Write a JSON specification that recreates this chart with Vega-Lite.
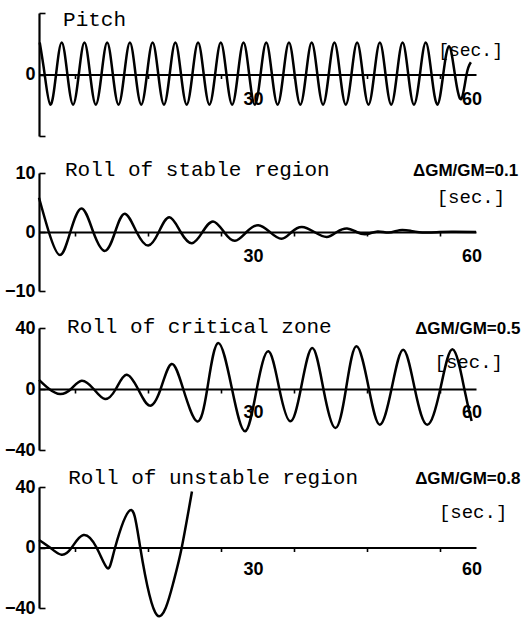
{
  "$schema": "https://vega.github.io/schema/vega-lite/v6.json",
  "background": "white",
  "padding": {"left": 4, "top": 4, "right": 0, "bottom": 0},
  "spacing": 37,
  "bounds": "flush",
  "config": {
    "view": {"stroke": null},
    "axis": {
      "grid": false, "title": null,
      "domainColor": "black", "domainWidth": 2.2,
      "tickColor": "black", "tickWidth": 1.6,
      "labelColor": "black",
      "labelFont": "Liberation Sans",
      "labelFontWeight": "bold", "labelFontSize": 18,
      "labelOverlap": false, "labelFlush": false
    },
    "text": {"color": "black"}
  },
  "datasets": {
    "pitch": [
      {"t": 0.1, "v": 5.2}, {"t": 0.78, "v": 0}, {"t": 1.56, "v": -4.9}, {"t": 2.34, "v": 0},
      {"t": 3.12, "v": 5.2}, {"t": 3.9, "v": 0}, {"t": 4.68, "v": -4.9}, {"t": 5.46, "v": 0},
      {"t": 6.24, "v": 5.2}, {"t": 7.02, "v": 0}, {"t": 7.8, "v": -4.9}, {"t": 8.58, "v": 0},
      {"t": 9.36, "v": 5.2}, {"t": 10.14, "v": 0}, {"t": 10.92, "v": -4.9}, {"t": 11.7, "v": 0},
      {"t": 12.48, "v": 5.2}, {"t": 13.26, "v": 0}, {"t": 14.04, "v": -4.9}, {"t": 14.82, "v": 0},
      {"t": 15.6, "v": 5.2}, {"t": 16.38, "v": 0}, {"t": 17.16, "v": -4.9}, {"t": 17.94, "v": 0},
      {"t": 18.72, "v": 5.2}, {"t": 19.5, "v": 0}, {"t": 20.28, "v": -4.9}, {"t": 21.06, "v": 0},
      {"t": 21.84, "v": 5.2}, {"t": 22.62, "v": 0}, {"t": 23.4, "v": -4.9}, {"t": 24.18, "v": 0},
      {"t": 24.96, "v": 5.2}, {"t": 25.74, "v": 0}, {"t": 26.52, "v": -4.9}, {"t": 27.3, "v": 0},
      {"t": 28.08, "v": 5.2}, {"t": 28.86, "v": 0}, {"t": 29.64, "v": -4.9}, {"t": 30.42, "v": 0},
      {"t": 31.2, "v": 5.2}, {"t": 31.98, "v": 0}, {"t": 32.76, "v": -4.9}, {"t": 33.54, "v": 0},
      {"t": 34.32, "v": 5.2}, {"t": 35.1, "v": 0}, {"t": 35.88, "v": -4.9}, {"t": 36.66, "v": 0},
      {"t": 37.44, "v": 5.2}, {"t": 38.22, "v": 0}, {"t": 39.0, "v": -4.9}, {"t": 39.78, "v": 0},
      {"t": 40.56, "v": 5.2}, {"t": 41.34, "v": 0}, {"t": 42.12, "v": -4.9}, {"t": 42.9, "v": 0},
      {"t": 43.68, "v": 5.2}, {"t": 44.46, "v": 0}, {"t": 45.24, "v": -4.9}, {"t": 46.02, "v": 0},
      {"t": 46.8, "v": 5.2}, {"t": 47.58, "v": 0}, {"t": 48.36, "v": -4.9}, {"t": 49.14, "v": 0},
      {"t": 49.92, "v": 5.2}, {"t": 50.7, "v": 0}, {"t": 51.48, "v": -4.9}, {"t": 52.3, "v": 0},
      {"t": 53.1, "v": 5.2}, {"t": 53.9, "v": 0}, {"t": 54.7, "v": -4.9}, {"t": 55.5, "v": 0},
      {"t": 56.3, "v": 4.6}, {"t": 57.1, "v": 0}, {"t": 57.95, "v": -4.0}, {"t": 58.7, "v": 0},
      {"t": 59.3, "v": 2.0}
    ],
    "stable": [
      {"t": 0, "v": 5.8}, {"t": 1.35, "v": 0}, {"t": 2.88, "v": -3.9}, {"t": 4.3, "v": 0},
      {"t": 5.86, "v": 4.0}, {"t": 7.45, "v": 0}, {"t": 9.07, "v": -3.2}, {"t": 10.45, "v": 0},
      {"t": 11.8, "v": 3.1}, {"t": 13.4, "v": 0}, {"t": 15.0, "v": -2.3}, {"t": 16.45, "v": 0},
      {"t": 17.9, "v": 2.5}, {"t": 19.45, "v": 0}, {"t": 21.0, "v": -1.9}, {"t": 22.45, "v": 0},
      {"t": 23.9, "v": 1.8}, {"t": 25.4, "v": 0}, {"t": 26.9, "v": -1.5}, {"t": 28.5, "v": 0},
      {"t": 30.1, "v": 1.15}, {"t": 31.7, "v": 0}, {"t": 33.3, "v": -1.15}, {"t": 34.7, "v": 0},
      {"t": 36.1, "v": 0.85}, {"t": 37.8, "v": 0}, {"t": 39.5, "v": -0.85}, {"t": 40.9, "v": 0},
      {"t": 42.3, "v": 0.6}, {"t": 43.6, "v": 0}, {"t": 45.0, "v": -0.35}, {"t": 46.5, "v": 0.1},
      {"t": 48.0, "v": -0.1}, {"t": 49.5, "v": 0.3}, {"t": 51.0, "v": 0.2}, {"t": 53.0, "v": -0.1},
      {"t": 55.0, "v": 0}, {"t": 57.0, "v": 0.05}, {"t": 60.0, "v": 0}
    ],
    "critical": [
      {"t": 0, "v": 6}, {"t": 1.4, "v": 0}, {"t": 2.9, "v": -3.3}, {"t": 4.4, "v": 0},
      {"t": 5.86, "v": 5.4}, {"t": 7.5, "v": 0}, {"t": 9.07, "v": -6.6}, {"t": 10.55, "v": 0},
      {"t": 12.0, "v": 9.4}, {"t": 13.6, "v": 0}, {"t": 15.2, "v": -10.9}, {"t": 16.7, "v": 0},
      {"t": 18.2, "v": 16.4}, {"t": 19.8, "v": 0}, {"t": 21.7, "v": -21.2}, {"t": 23.1, "v": 0},
      {"t": 24.6, "v": 30.2}, {"t": 26.5, "v": 0}, {"t": 28.3, "v": -27.7}, {"t": 29.9, "v": 0},
      {"t": 31.5, "v": 24.7}, {"t": 33.0, "v": 0}, {"t": 34.5, "v": -21.2}, {"t": 35.95, "v": 0},
      {"t": 37.5, "v": 26.9}, {"t": 39.05, "v": 0}, {"t": 40.7, "v": -25.6}, {"t": 42.15, "v": 0},
      {"t": 43.6, "v": 28}, {"t": 45.3, "v": 0}, {"t": 46.8, "v": -23.4}, {"t": 48.4, "v": 0},
      {"t": 50.0, "v": 25.8}, {"t": 51.6, "v": 0}, {"t": 53.3, "v": -23.4}, {"t": 55.1, "v": 0},
      {"t": 56.8, "v": 26}, {"t": 58.4, "v": 0}, {"t": 59.4, "v": -21}
    ],
    "unstable": [
      {"t": 0, "v": 5}, {"t": 1.5, "v": 0}, {"t": 3.1, "v": -4.8}, {"t": 4.5, "v": 0},
      {"t": 6.1, "v": 8.2}, {"t": 7.9, "v": 0}, {"t": 9.4, "v": -13.7}, {"t": 10.45, "v": 0},
      {"t": 12.5, "v": 24.6}, {"t": 13.9, "v": 0}, {"t": 16.2, "v": -44.7}, {"t": 18.4, "v": -24},
      {"t": 19.6, "v": 0}, {"t": 21.0, "v": 37}
    ],
    "xlabels": [{"t": 30, "label": "30"}, {"t": 60, "label": "60"}],
    "titles1": [{"t": 3.3, "v": 7.9, "label": "Pitch"}],
    "sec1": [{"t": 63.7, "v": 3.0, "label": "[sec.]"}],
    "titles2": [{"t": 3.57, "v": 9.5, "label": "Roll of stable region"}],
    "gm2": [{"t": 65.8, "v": 9.5, "label": "ΔGM/GM=0.1"}],
    "sec2": [{"t": 64.0, "v": 4.9, "label": "[sec.]"}],
    "titles3": [{"t": 3.85, "v": 36.7, "label": "Roll of critical zone"}],
    "gm3": [{"t": 66.1, "v": 36.0, "label": "ΔGM/GM=0.5"}],
    "sec3": [{"t": 63.7, "v": 13.8, "label": "[sec.]"}],
    "titles4": [{"t": 4.0, "v": 41.7, "label": "Roll of unstable region"}],
    "gm4": [{"t": 66.1, "v": 41.7, "label": "ΔGM/GM=0.8"}],
    "sec4": [{"t": 64.3, "v": 19.8, "label": "[sec.]"}]
  },
  "vconcat": [
    {
      "width": 437, "height": 123,
      "layer": [
        {
          "data": {"name": "pitch"},
          "mark": {"type": "line", "interpolate": "natural", "stroke": "black", "strokeWidth": 2.5, "clip": false},
          "encoding": {
            "x": {"field": "t", "type": "quantitative", "scale": {"domain": [0, 60], "nice": false, "zero": false},
              "axis": {"orient": "bottom", "offset": -61.5, "values": [5, 10, 15, 20, 25, 30, 35, 40, 45, 50, 55, 60], "labels": false, "tickSize": 4}},
            "y": {"field": "v", "type": "quantitative", "scale": {"domain": [-10, 10], "nice": false},
              "axis": {"values": [-10, 0, 10], "labelExpr": "datum.value == 0 ? datum.label : ''", "tickSize": -6, "labelPadding": 10}}
          }
        },
        {
          "data": {"name": "xlabels"},
          "mark": {"type": "text", "font": "Liberation Sans", "fontWeight": "bold", "fontSize": 18, "align": "center", "baseline": "top", "dy": 16, "dx": -4},
          "encoding": {"x": {"field": "t", "type": "quantitative"}, "y": {"datum": 0}, "text": {"field": "label"}}
        },
        {
          "data": {"name": "titles1"},
          "mark": {"type": "text", "font": "Liberation Mono", "fontSize": 21, "align": "left", "baseline": "alphabetic"},
          "encoding": {"x": {"field": "t", "type": "quantitative"}, "y": {"field": "v", "type": "quantitative"}, "text": {"field": "label"}}
        },
        {
          "data": {"name": "sec1"},
          "mark": {"type": "text", "font": "Liberation Mono", "fontSize": 18, "align": "right", "baseline": "alphabetic"},
          "encoding": {"x": {"field": "t", "type": "quantitative"}, "y": {"field": "v", "type": "quantitative"}, "text": {"field": "label"}}
        }
      ]
    },
    {
      "width": 437, "height": 118,
      "layer": [
        {
          "data": {"name": "stable"},
          "mark": {"type": "line", "interpolate": "natural", "stroke": "black", "strokeWidth": 2.5, "clip": false},
          "encoding": {
            "x": {"field": "t", "type": "quantitative", "scale": {"domain": [0, 60], "nice": false, "zero": false},
              "axis": {"orient": "bottom", "offset": -59, "values": [5, 10, 15, 20, 25, 30, 35, 40, 45, 50, 55, 60], "labels": false, "tickSize": 4}},
            "y": {"field": "v", "type": "quantitative", "scale": {"domain": [-10, 10], "nice": false},
              "axis": {"values": [-10, 0, 10], "tickSize": -6, "labelPadding": 10}}
          }
        },
        {
          "data": {"name": "xlabels"},
          "mark": {"type": "text", "font": "Liberation Sans", "fontWeight": "bold", "fontSize": 18, "align": "center", "baseline": "top", "dy": 16, "dx": -4},
          "encoding": {"x": {"field": "t", "type": "quantitative"}, "y": {"datum": 0}, "text": {"field": "label"}}
        },
        {
          "data": {"name": "titles2"},
          "mark": {"type": "text", "font": "Liberation Mono", "fontSize": 21, "align": "left", "baseline": "alphabetic"},
          "encoding": {"x": {"field": "t", "type": "quantitative"}, "y": {"field": "v", "type": "quantitative"}, "text": {"field": "label"}}
        },
        {
          "data": {"name": "gm2"},
          "mark": {"type": "text", "font": "Liberation Sans", "fontWeight": "bold", "fontSize": 17, "align": "right", "baseline": "alphabetic"},
          "encoding": {"x": {"field": "t", "type": "quantitative"}, "y": {"field": "v", "type": "quantitative"}, "text": {"field": "label"}}
        },
        {
          "data": {"name": "sec2"},
          "mark": {"type": "text", "font": "Liberation Mono", "fontSize": 19, "align": "right", "baseline": "alphabetic"},
          "encoding": {"x": {"field": "t", "type": "quantitative"}, "y": {"field": "v", "type": "quantitative"}, "text": {"field": "label"}}
        }
      ]
    },
    {
      "width": 437, "height": 122,
      "layer": [
        {
          "data": {"name": "critical"},
          "mark": {"type": "line", "interpolate": "natural", "stroke": "black", "strokeWidth": 2.5, "clip": false},
          "encoding": {
            "x": {"field": "t", "type": "quantitative", "scale": {"domain": [0, 60], "nice": false, "zero": false},
              "axis": {"orient": "bottom", "offset": -61, "values": [5, 10, 15, 20, 25, 30, 35, 40, 45, 50, 55, 60], "labels": false, "tickSize": 4}},
            "y": {"field": "v", "type": "quantitative", "scale": {"domain": [-40, 40], "nice": false},
              "axis": {"values": [-40, -20, 0, 20, 40], "labelExpr": "datum.value == 20 || datum.value == -20 ? '' : datum.label", "tickSize": -6, "labelPadding": 10}}
          }
        },
        {
          "data": {"name": "xlabels"},
          "mark": {"type": "text", "font": "Liberation Sans", "fontWeight": "bold", "fontSize": 18, "align": "center", "baseline": "top", "dy": 15, "dx": -4},
          "encoding": {"x": {"field": "t", "type": "quantitative"}, "y": {"datum": 0}, "text": {"field": "label"}}
        },
        {
          "data": {"name": "titles3"},
          "mark": {"type": "text", "font": "Liberation Mono", "fontSize": 21, "align": "left", "baseline": "alphabetic"},
          "encoding": {"x": {"field": "t", "type": "quantitative"}, "y": {"field": "v", "type": "quantitative"}, "text": {"field": "label"}}
        },
        {
          "data": {"name": "gm3"},
          "mark": {"type": "text", "font": "Liberation Sans", "fontWeight": "bold", "fontSize": 17, "align": "right", "baseline": "alphabetic"},
          "encoding": {"x": {"field": "t", "type": "quantitative"}, "y": {"field": "v", "type": "quantitative"}, "text": {"field": "label"}}
        },
        {
          "data": {"name": "sec3"},
          "mark": {"type": "text", "font": "Liberation Mono", "fontSize": 19, "align": "right", "baseline": "alphabetic"},
          "encoding": {"x": {"field": "t", "type": "quantitative"}, "y": {"field": "v", "type": "quantitative"}, "text": {"field": "label"}}
        }
      ]
    },
    {
      "width": 437, "height": 121,
      "layer": [
        {
          "data": {"name": "unstable"},
          "mark": {"type": "line", "interpolate": "natural", "stroke": "black", "strokeWidth": 2.5, "clip": false},
          "encoding": {
            "x": {"field": "t", "type": "quantitative", "scale": {"domain": [0, 60], "nice": false, "zero": false},
              "axis": {"orient": "bottom", "offset": -60.5, "values": [5, 10, 15, 20, 25, 30, 35, 40, 45, 50, 55, 60], "labels": false, "tickSize": 4}},
            "y": {"field": "v", "type": "quantitative", "scale": {"domain": [-40, 40], "nice": false},
              "axis": {"values": [-40, -20, 0, 20, 40], "labelExpr": "datum.value == 20 || datum.value == -20 ? '' : datum.label", "tickSize": -6, "labelPadding": 10}}
          }
        },
        {
          "data": {"name": "xlabels"},
          "mark": {"type": "text", "font": "Liberation Sans", "fontWeight": "bold", "fontSize": 18, "align": "center", "baseline": "top", "dy": 13, "dx": -4},
          "encoding": {"x": {"field": "t", "type": "quantitative"}, "y": {"datum": 0}, "text": {"field": "label"}}
        },
        {
          "data": {"name": "titles4"},
          "mark": {"type": "text", "font": "Liberation Mono", "fontSize": 21, "align": "left", "baseline": "alphabetic"},
          "encoding": {"x": {"field": "t", "type": "quantitative"}, "y": {"field": "v", "type": "quantitative"}, "text": {"field": "label"}}
        },
        {
          "data": {"name": "gm4"},
          "mark": {"type": "text", "font": "Liberation Sans", "fontWeight": "bold", "fontSize": 17, "align": "right", "baseline": "alphabetic"},
          "encoding": {"x": {"field": "t", "type": "quantitative"}, "y": {"field": "v", "type": "quantitative"}, "text": {"field": "label"}}
        },
        {
          "data": {"name": "sec4"},
          "mark": {"type": "text", "font": "Liberation Mono", "fontSize": 19, "align": "right", "baseline": "alphabetic"},
          "encoding": {"x": {"field": "t", "type": "quantitative"}, "y": {"field": "v", "type": "quantitative"}, "text": {"field": "label"}}
        }
      ]
    }
  ]
}
